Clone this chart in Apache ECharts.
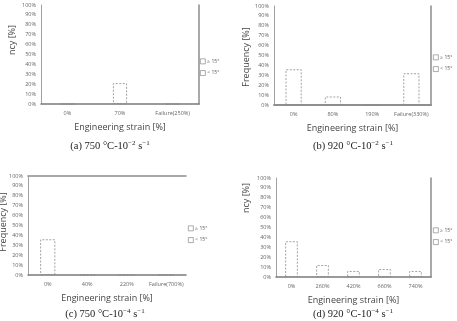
<!DOCTYPE html>
<html>
<head>
<meta charset="utf-8">
<script src="https://cdn.jsdelivr.net/npm/echarts@6/dist/echarts.min.js"></script>
<style>
  html, body { margin: 0; padding: 0; background: #fff; }
  #chart { width: 457px; height: 321px; }
</style>
</head>
<body>
<div id="chart"></div>
<script>
// categories (engineering strain) per panel
const catsA = ['0%', '70%', 'Failure(250%)'];
const catsB = ['0%', '80%', '190%', 'Failure(330%)'];
const catsC = ['0%', '40%', '220%', 'Failure(700%)'];
const catsD = ['0%', '260%', '420%', '660%', '740%'];

// frequency of boundaries < 15 deg (visible dashed boxes)
const lowA = [0, 21, 0];
const lowB = [36, 8.5, 0, 32];
const lowC = [36, 0, 0, 0];
const lowD = [36, 12, 6, 8, 6];

// frequency of boundaries >= 15 deg (stacked on top, white)
const highA = [0, 79, 0];
const highB = [64, 91.5, 100, 68];
const highC = [64, 0, 0, 0];
const highD = [64, 88, 94, 92, 94];

const yTicks = [0, 10, 20, 30, 40, 50, 60, 70, 80, 90, 100];
const legendNames = ['≥ 15°', '< 15°'];

const SANS = "'Open Sans', 'Noto Sans', sans-serif";
const SERIF = "'Liberation Serif', 'DejaVu Serif', serif";

const panels = [
  { cats: catsA, low: lowA, high: highA, grid: { left: 41, top: 5, width: 158, height: 99 },
    barWidth: 14, top: false, right: true, legend: [200, 58.5] },
  { cats: catsB, low: lowB, high: highB, grid: { left: 274, top: 6, width: 157, height: 99 },
    barWidth: 16, top: true, right: true, legend: [433, 54.5] },
  { cats: catsC, low: lowC, high: highC, grid: { left: 28, top: 176, width: 158, height: 99 },
    barWidth: 15, top: true, right: false, legend: [188, 225.5] },
  { cats: catsD, low: lowD, high: highD, grid: { left: 276, top: 178, width: 155, height: 99 },
    barWidth: 12.5, top: false, right: true, legend: [433, 227.5] }
];

const lineGray = '#8c8c8c';

const grid = [], xAxis = [], yAxis = [], series = [], legend = [];
panels.forEach((p, i) => {
  grid.push(p.grid);
  xAxis.push({
    type: 'category', gridIndex: i, data: p.cats,
    axisLine: { lineStyle: { color: '#7a7a7a', width: 1.5 } },
    axisTick: { show: false },
    axisLabel: { fontSize: 5.5, color: '#666', fontFamily: SANS, margin: 6, interval: 0 },
    name: 'Engineering strain [%]', nameLocation: 'middle', nameGap: 19,
    nameTextStyle: { fontSize: 9, color: '#444', fontFamily: SANS }
  });
  yAxis.push({
    type: 'value', gridIndex: i, min: 0, max: 100, interval: 10,
    axisLine: { show: true, lineStyle: { color: '#a0a0a0', width: 1 } },
    axisTick: { show: false },
    splitLine: { show: false },
    axisLabel: { fontSize: 5.5, color: '#666', fontFamily: SANS, margin: 5,
      formatter: v => yTicks.includes(v) ? v + '%' : '' }
  });
  if (p.top) {
    xAxis.push({
      type: 'category', gridIndex: i, position: 'top', data: p.cats,
      axisLine: { lineStyle: { color: lineGray, width: 1.5 } },
      axisTick: { show: false }, axisLabel: { show: false }
    });
  }
  if (p.right) {
    yAxis.push({
      type: 'value', gridIndex: i, position: 'right', min: 0, max: 100,
      axisLine: { show: true, lineStyle: { color: lineGray, width: 1.5 } },
      axisTick: { show: false }, axisLabel: { show: false }, splitLine: { show: false }
    });
  }
  const xi = xAxis.findIndex(a => a.gridIndex === i);
  const yi = yAxis.findIndex(a => a.gridIndex === i);
  series.push({
    name: '< 15°', type: 'bar', stack: 'p' + i, xAxisIndex: xi, yAxisIndex: yi,
    barWidth: p.barWidth, data: p.low,
    itemStyle: { color: 'rgba(255,255,255,0)', borderColor: '#8a8a8a', borderWidth: 0.8, borderType: [2, 1.5] }
  });
  series.push({
    name: '≥ 15°', type: 'bar', stack: 'p' + i, xAxisIndex: xi, yAxisIndex: yi,
    barWidth: p.barWidth, data: p.high,
    itemStyle: { color: 'rgba(255,255,255,0)', borderWidth: 0 }
  });
  legend.push({
    data: legendNames, orient: 'vertical', left: p.legend[0], top: p.legend[1],
    itemWidth: 5, itemHeight: 5, itemGap: 6, icon: 'rect', selectedMode: false, padding: 0,
    itemStyle: { color: '#fff', borderColor: '#888', borderWidth: 0.7 },
    textStyle: { fontSize: 5, color: '#555', fontFamily: SANS, padding: [0, 0, 0, -3] }
  });
});

function yTitle(x, y, text) {
  return { type: 'text', x: x, y: y, rotation: Math.PI / 2,
    style: { text: text, fontSize: 9, fill: '#444', fontFamily: SANS, align: 'center', verticalAlign: 'middle' } };
}
function caption(x, y, label, temp, exp) {
  return { type: 'text', x: x, y: y,
    style: {
      text: label + ' ' + temp + ' °C-10{sup|−' + exp + '} s{sup|−1}',
      fontSize: 10.5, fill: '#222', fontFamily: SERIF, align: 'center', verticalAlign: 'middle',
      rich: { sup: { fontSize: 7, fontFamily: SERIF, fill: '#222', padding: [0, 0, 6, 0] } }
    } };
}

const graphic = [
  yTitle(12, 40, 'ncy [%]'),
  yTitle(246, 57, 'Frequency [%]'),
  yTitle(3, 222, 'Frequency [%]'),
  yTitle(246, 198, 'ncy [%]'),
  caption(110, 146, '(a)', '750', '2'),
  caption(353, 146, '(b)', '920', '2'),
  caption(105, 314, '(c)', '750', '4'),
  caption(353, 314, '(d)', '920', '4')
];

const chart = echarts.init(document.getElementById('chart'));
chart.setOption({
  animation: false,
  backgroundColor: '#fff',
  grid: grid, xAxis: xAxis, yAxis: yAxis, series: series, legend: legend,
  graphic: graphic
});
</script>
</body>
</html>
